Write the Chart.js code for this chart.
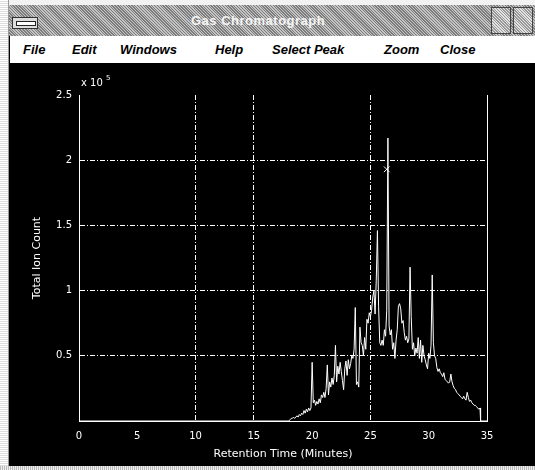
<!DOCTYPE html>
<html lang="en">
<head>
  <meta charset="UTF-8">
  <title>Gas Chromatograph</title>
  <script src="https://cdn.jsdelivr.net/npm/chart.js"></script>
  <style>
    * { box-sizing: border-box; }

    body {
      margin: 0;
      width: 535px;
      height: 470px;
      overflow: hidden;
      position: relative;
      background: #000;
      font-family: 'Liberation Sans', Arial, sans-serif;
    }

    #chart { position: absolute; left: 0; top: 0; }

    .frame-top {
      position: absolute; left: 0; top: 0; width: 535px; height: 5px; background: #f2f2f2;
    }

    .frame-left {
      position: absolute; left: 0; top: 0; width: 9px; height: 470px;
      background: repeating-linear-gradient(0deg, #ddd 0 1px, #fff 1px 2px);
      border-right: 1px solid #999;
    }

    .frame-bottom {
      position: absolute; left: 0; top: 466px; width: 535px; height: 4px;
      background: repeating-linear-gradient(90deg, #bbb 0 1px, #eee 1px 2px);
    }

    .titlebar {
      position: absolute; left: 9px; top: 5px; width: 526px; height: 31px;
      background: repeating-linear-gradient(45deg, #7d7d7d 0 1px, #c4c4c4 1px 2px);
      color: #f4f4f4;
      font-weight: bold;
      font-size: 13px;
    }

    .titlebar .text { position: absolute; left: 182px; top: 8px; letter-spacing: 0.5px; }

    .sysbox {
      position: absolute; left: 3px; top: 12px; width: 26px; height: 12px;
      background: #ddd; border: 1px solid #333;
    }
    .sysbox::after {
      content: ''; position: absolute; left: 3px; top: 3px; width: 18px; height: 3px;
      background: #fff; border: 1px solid #222;
    }

    .btn {
      position: absolute; top: 2px; width: 20px; height: 27px;
      background: repeating-linear-gradient(45deg, #999 0 1px, #e2e2e2 1px 2px);
      border: 1px solid #444;
    }

    .menubar {
      position: absolute; left: 10px; top: 36px; width: 525px; height: 27px;
      background: #fff;
      font-size: 13px;
      font-weight: bold;
      font-style: italic;
      color: #000;
    }

    .menubar span { position: absolute; top: 6px; }
  </style>
</head>

<body>
  <canvas id="chart" width="535" height="470"></canvas>
  <div class="frame-top"></div>
  <div class="titlebar">
    <div class="sysbox"></div>
    <div class="text">Gas Chromatograph</div>
    <div class="btn" style="left:482px"></div>
    <div class="btn" style="left:504px"></div>
  </div>
  <div class="menubar">
    <span style="left:13px">File</span>
    <span style="left:62px">Edit</span>
    <span style="left:110px">Windows</span>
    <span style="left:205px">Help</span>
    <span style="left:262px">Select Peak</span>
    <span style="left:374px">Zoom</span>
    <span style="left:430px">Close</span>
  </div>
  <div class="frame-left"></div>
  <div class="frame-bottom"></div>

  <script>
    // retention time in minutes, ion count in units of 10^5
    const retentionTime = [
      0, 18.0,
      18.1, 18.2, 18.3, 18.4, 18.5, 18.6, 18.7, 18.8, 18.9,
      19.0, 19.1, 19.2, 19.3, 19.4, 19.5, 19.6, 19.7, 19.8, 19.9,
      20.0, 20.1, 20.2, 20.3, 20.4, 20.5, 20.6, 20.7, 20.8, 20.9,
      21.0, 21.1, 21.2, 21.3, 21.4, 21.5, 21.6, 21.7, 21.8, 21.9,
      22.0, 22.1, 22.2, 22.3, 22.4, 22.5, 22.6, 22.7, 22.8, 22.9,
      23.0, 23.1, 23.2, 23.3, 23.4, 23.5, 23.6, 23.7, 23.8, 23.9,
      24.0, 24.1, 24.2, 24.3, 24.4, 24.5, 24.6, 24.7, 24.8, 24.9,
      25.0, 25.1, 25.2, 25.3, 25.4, 25.5, 25.6, 25.7, 25.8, 25.9,
      26.0, 26.1, 26.2, 26.3, 26.4, 26.5, 26.6, 26.7, 26.8, 26.9,
      27.0, 27.1, 27.2, 27.3, 27.4, 27.5, 27.6, 27.7, 27.8, 27.9,
      28.0, 28.1, 28.2, 28.3, 28.4, 28.5, 28.6, 28.7, 28.8, 28.9,
      29.0, 29.1, 29.2, 29.3, 29.4, 29.5, 29.6, 29.7, 29.8, 29.9,
      30.0, 30.1, 30.2, 30.3, 30.4, 30.5, 30.6, 30.7, 30.8, 30.9,
      31.0, 31.1, 31.2, 31.3, 31.4, 31.5, 31.6, 31.7, 31.8, 31.9,
      32.0, 32.1, 32.2, 32.3, 32.4, 32.5, 32.6, 32.7, 32.8, 32.9,
      33.0, 33.1, 33.2, 33.3, 33.4, 33.5, 33.6, 33.7, 33.8, 33.9,
      34.0, 34.1, 34.2, 34.3, 34.4, 34.45, 35.0
    ];

    const ionCount = [
      0, 0,
      0.01, 0.02, 0.02, 0.03, 0.02, 0.03, 0.04, 0.03, 0.05,
      0.04, 0.06, 0.05, 0.08, 0.06, 0.09, 0.07, 0.10, 0.08, 0.10,
      0.45, 0.14, 0.16, 0.12, 0.15, 0.13, 0.17, 0.14, 0.20, 0.18,
      0.22, 0.18, 0.25, 0.43, 0.20, 0.30, 0.26, 0.33, 0.28, 0.35,
      0.58, 0.30, 0.42, 0.36, 0.45, 0.38, 0.31, 0.24, 0.40, 0.46,
      0.35, 0.47, 0.40, 0.44, 0.50, 0.48, 0.55, 0.87, 0.28, 0.30,
      0.26, 0.72, 0.60, 0.58, 0.50, 0.64, 0.55, 0.78, 0.75, 0.83,
      0.80, 0.85, 0.95, 1.00, 0.82, 1.08, 1.46, 0.88, 0.60, 0.58,
      0.62, 0.58, 0.70, 0.65, 0.85, 2.17, 0.73, 0.66, 0.70, 0.55,
      0.60, 0.48, 0.62, 0.70, 0.88, 0.90, 0.86, 0.75, 0.77, 0.68,
      0.62, 0.65, 0.60, 0.63, 1.18, 0.80, 0.55, 0.60, 0.50, 0.56,
      0.52, 0.64, 0.48, 0.62, 0.45, 0.58, 0.50, 0.47, 0.43, 0.40,
      0.52, 0.48, 0.58, 1.12, 0.60, 0.50, 0.48, 0.41, 0.38, 0.40,
      0.37, 0.36, 0.34, 0.37, 0.32, 0.31, 0.30, 0.29, 0.30, 0.36,
      0.30, 0.27, 0.25, 0.24, 0.22, 0.21, 0.20, 0.19, 0.18, 0.17,
      0.19, 0.17, 0.16, 0.22, 0.18, 0.15, 0.16, 0.14, 0.13, 0.12,
      0.12, 0.11, 0.10, 0.09, 0.10, 0, 0
    ];

    // selected-peak cursor
    const cursorTime = [26.4];
    const cursorCount = [1.93];

    const xTicks = [0, 5, 10, 15, 20, 25, 30, 35];
    const yTicks = [0, 0.5, 1, 1.5, 2, 2.5];
    const xGridShown = [10, 15, 25];
    const yGridShown = [0.5, 1, 1.5, 2];

    const white = '#ffffff';
    const tickFont = { family: "'DejaVu Sans', sans-serif", size: 10 };

    const exponentLabel = {
      id: 'exponentLabel',
      afterDraw(chart) {
        const ctx = chart.ctx;
        const left = chart.chartArea.left;
        ctx.save();
        ctx.fillStyle = white;
        ctx.font = "10px 'DejaVu Sans', sans-serif";
        ctx.textBaseline = 'alphabetic';
        ctx.fillText('x 10', left + 2, 86);
        ctx.font = "7px 'DejaVu Sans', sans-serif";
        ctx.fillText('5', left + 27, 80);
        ctx.restore();
      }
    };

    new Chart(document.getElementById('chart'), {
      type: 'line',
      data: {
        datasets: [{
          data: retentionTime.map((t, i) => ({ x: t, y: ionCount[i] })),
          borderColor: white,
          borderWidth: 1,
          pointRadius: 0,
          tension: 0
        }, {
          data: cursorTime.map((t, i) => ({ x: t, y: cursorCount[i] })),
          showLine: false,
          pointStyle: 'crossRot',
          pointRadius: 4,
          borderColor: white,
          borderWidth: 1
        }]
      },
      options: {
        responsive: false,
        animation: false,
        layout: { padding: { top: 95, left: 0, right: 0, bottom: 0 } },
        plugins: {
          legend: { display: false },
          tooltip: { enabled: false }
        },
        scales: {
          x: {
            type: 'linear',
            min: 0,
            max: 35,
            afterBuildTicks: s => { s.ticks = xTicks.map(v => ({ value: v })); },
            afterFit: s => { s.height = 49; },
            ticks: { color: white, font: tickFont, padding: 9, maxRotation: 0 },
            grid: {
              drawTicks: false,
              color: c => xGridShown.includes(c.tick && c.tick.value) ? white : 'rgba(0,0,0,0)',
              lineWidth: 1
            },
            border: { display: true, color: white, width: 1, dash: [5, 2, 1, 2] },
            title: {
              display: true,
              text: 'Retention Time (Minutes)',
              color: white,
              font: { family: "'DejaVu Sans', sans-serif", size: 11 },
              padding: { top: 9, bottom: 9 }
            }
          },
          y: {
            min: 0,
            max: 2.5,
            afterBuildTicks: s => { s.ticks = yTicks.map(v => ({ value: v })); },
            afterFit: s => { s.width = 79; },
            ticks: {
              color: white,
              font: tickFont,
              padding: 7,
              callback: v => v === 0 ? '' : v
            },
            grid: {
              drawTicks: false,
              color: c => yGridShown.includes(c.tick && c.tick.value) ? white : 'rgba(0,0,0,0)',
              lineWidth: 1
            },
            border: { display: true, color: white, width: 1, dash: [5, 2, 1, 2] },
            title: {
              display: true,
              text: 'Total Ion Count',
              color: white,
              font: { family: "'DejaVu Sans', sans-serif", size: 11 },
              padding: { top: 31, bottom: 0 }
            }
          },
          y2: {
            position: 'right',
            min: 0,
            max: 2.5,
            afterFit: s => { s.width = 48; },
            ticks: { display: false },
            grid: { display: false, drawTicks: false },
            border: { display: true, color: white, width: 1 }
          }
        }
      },
      plugins: [exponentLabel]
    });
  </script>
</body>

</html>
